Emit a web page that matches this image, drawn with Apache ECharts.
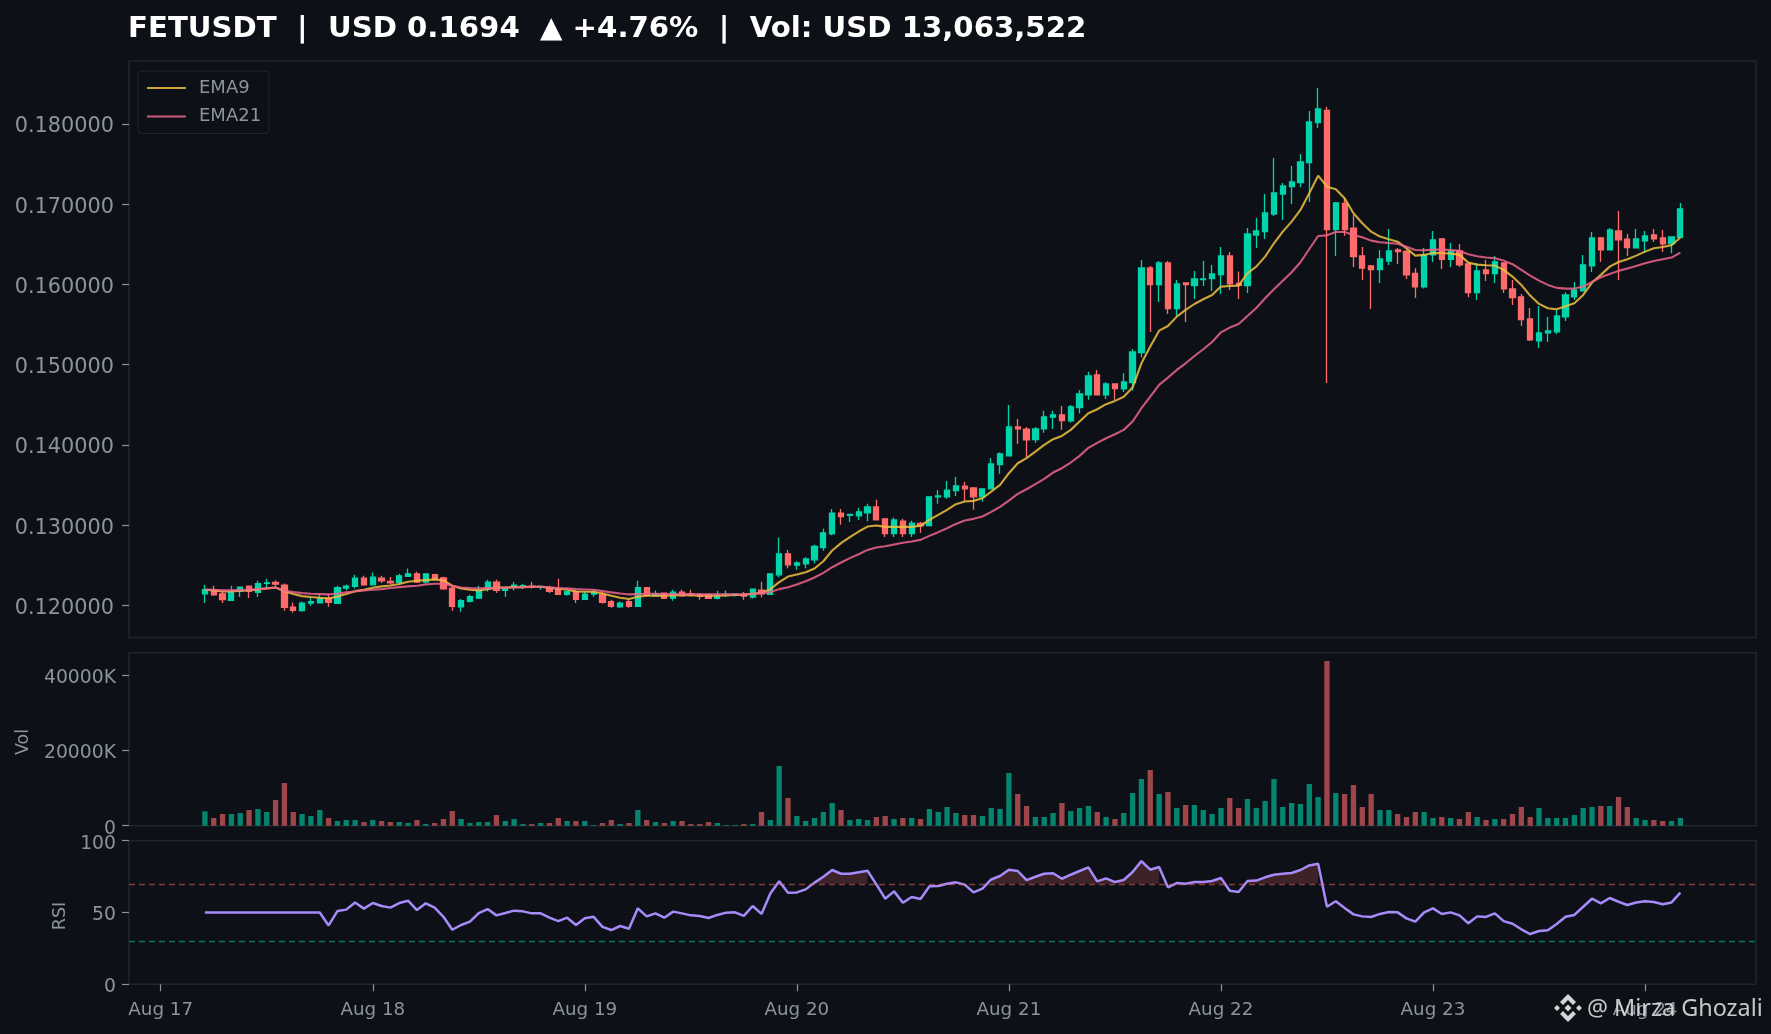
<!DOCTYPE html>
<html>
<head>
<meta charset="utf-8">
<style>html,body{margin:0;padding:0;background:#0d1117}#c{width:1771px;height:1034px}</style>
<script src="https://cdn.jsdelivr.net/npm/echarts@6/dist/echarts.min.js"></script>
</head>
<body>
<div id="c"></div>
<script>
// prices in thousandths of a USD; one bar per hour, first bar Aug 17 05:00
const firstHour = 5;
const O = [121.44,121.86,121.44,120.61,121.73,122.40,121.61,122.73,122.85,122.52,
119.78,119.33,120.28,120.32,120.90,120.24,122.15,122.36,123.39,122.56,
123.39,122.98,122.85,123.60,123.93,122.90,123.81,123.43,122.15,119.82,
120.49,120.90,122.06,122.90,121.86,122.23,122.36,122.40,122.27,122.23,
121.94,121.36,121.69,120.74,121.40,121.32,120.45,119.82,120.45,119.87,
122.19,121.19,121.53,120.90,121.65,121.44,121.36,121.32,120.86,121.23,
121.32,121.40,121.03,121.90,121.36,123.80,126.42,125.00,125.17,125.67,
127.21,128.91,131.48,131.23,131.15,131.53,132.27,130.78,128.95,130.49,
128.95,130.20,129.95,133.52,133.52,134.31,134.85,134.64,133.52,134.52,
137.55,138.63,142.24,141.95,140.66,141.99,143.45,143.74,142.99,144.65,
146.23,148.72,146.23,147.60,146.97,147.76,151.50,162.05,159.98,162.68,
156.99,160.18,159.85,160.60,160.72,161.22,163.55,160.14,159.85,166.16,
166.58,168.78,171.27,172.19,172.69,175.18,180.17,181.70,166.83,170.11,
167.00,163.55,162.30,161.85,162.92,164.30,164.13,161.39,159.69,163.68,
165.67,163.14,164.18,162.55,158.98,161.81,161.35,162.68,159.44,158.44,
155.70,152.96,153.96,154.08,155.95,158.44,159.19,162.31,165.79,164.30,
166.67,165.63,164.55,165.42,166.17,165.79,165.05,165.88];
const C = [121.94,121.32,120.70,121.73,122.27,121.77,122.69,122.81,122.65,119.74,
119.37,120.28,120.45,120.90,120.36,122.19,122.40,123.39,122.56,123.52,
123.06,122.81,123.68,123.93,122.90,123.93,123.27,122.06,119.87,120.57,
121.07,121.86,122.90,121.86,122.15,122.52,122.44,122.27,122.36,121.73,
121.36,121.69,120.74,121.40,121.61,120.36,119.87,120.28,119.87,122.19,
121.23,121.40,120.86,121.65,121.19,121.32,121.11,120.86,121.23,121.36,
121.40,121.15,122.02,121.44,123.93,126.42,125.05,125.29,125.79,127.33,
129.03,131.48,131.07,131.32,131.65,132.27,130.65,128.95,130.65,128.95,
130.24,129.91,133.52,133.64,134.35,134.89,134.52,133.52,134.52,137.63,
138.88,142.24,141.99,140.62,141.99,143.49,143.74,143.03,144.74,146.36,
148.60,146.23,147.60,147.02,147.85,151.59,162.05,159.98,162.68,156.99,
160.06,159.98,160.68,160.68,161.31,163.55,160.06,159.89,166.29,166.66,
168.91,171.40,172.27,172.77,175.27,180.25,181.87,166.83,170.16,166.83,
163.47,162.05,161.85,163.18,164.17,164.09,161.18,159.69,163.68,165.55,
163.14,164.18,162.43,158.98,161.68,161.35,162.80,159.44,158.36,155.62,
153.08,153.96,154.21,156.07,158.69,159.31,162.43,165.79,164.30,166.79,
165.55,164.59,165.67,166.04,165.67,165.05,165.92,169.41];
const H = [122.56,122.44,121.86,122.44,122.36,122.44,123.06,123.31,123.10,122.73,
120.36,120.49,120.90,121.40,121.44,122.44,122.60,123.81,123.68,124.10,
123.68,123.52,123.93,124.60,124.18,124.01,123.93,123.56,122.44,120.78,
121.32,122.44,123.19,123.19,122.36,122.90,122.69,122.94,122.44,122.44,
123.31,121.82,121.86,121.69,121.94,121.73,120.70,120.49,120.82,123.06,
122.23,121.86,121.61,121.94,121.94,121.94,121.53,121.44,121.82,121.86,
121.53,121.65,122.06,122.94,123.97,128.45,126.91,125.50,126.00,127.54,
129.53,132.02,132.02,131.40,132.15,132.65,133.15,130.78,130.94,130.78,
130.53,130.40,133.56,134.39,135.51,136.01,135.39,134.72,134.56,138.38,
139.04,144.98,143.24,142.24,142.24,144.24,144.24,144.86,144.98,146.85,
149.10,149.34,147.81,147.60,148.93,151.96,163.05,162.30,162.92,162.92,
160.56,160.18,161.68,162.92,162.43,164.67,164.05,161.60,167.04,168.28,
171.27,175.76,172.65,174.77,176.26,181.62,184.49,182.12,170.28,170.78,
168.66,164.67,162.43,164.30,166.92,164.55,164.30,162.01,164.55,166.67,
165.79,165.17,165.05,162.55,162.68,163.05,163.55,162.68,160.56,158.81,
157.07,157.32,155.95,156.82,159.02,160.31,163.68,166.54,165.92,167.04,
169.16,166.29,166.91,166.67,166.91,166.79,165.92,170.16];
const L = [120.28,121.19,120.28,120.61,121.03,120.90,121.03,122.27,122.36,119.33,
119.08,119.20,119.95,120.28,119.82,120.20,121.86,122.11,122.44,122.52,
122.77,122.60,122.56,123.52,122.77,122.69,123.10,121.94,119.33,119.20,
120.36,120.78,121.73,121.53,121.03,121.86,122.02,122.11,121.94,121.53,
121.32,121.19,120.28,120.70,121.07,120.20,119.70,119.70,119.70,119.82,
121.23,121.11,120.82,120.57,121.11,121.19,120.70,120.78,120.74,121.03,
121.07,120.70,120.86,120.99,121.36,123.51,124.63,124.42,124.63,125.25,
126.79,128.74,130.03,130.40,130.65,130.49,130.65,128.53,128.53,128.53,
128.53,129.03,129.82,132.65,133.27,133.64,133.02,131.90,132.90,134.47,
136.39,138.59,140.12,138.50,140.25,141.50,141.99,141.87,142.78,143.95,
145.61,146.23,145.73,145.61,146.60,146.77,150.88,154.08,157.82,156.32,
156.07,155.32,158.19,159.81,159.19,158.81,159.31,158.19,158.94,164.55,
165.67,168.53,168.04,170.03,172.11,170.28,179.50,147.72,163.55,166.04,
162.18,160.56,156.95,160.18,162.43,162.55,160.68,158.32,159.48,162.80,
161.93,162.18,162.18,158.40,158.07,160.44,160.19,158.94,157.44,154.83,
152.96,152.09,152.83,153.83,155.45,158.07,159.15,161.56,162.80,164.26,
160.56,163.55,164.51,163.93,165.30,164.05,163.89,165.84];
const EMA9 = [121.94,121.86,121.73,121.73,121.82,121.86,121.98,122.11,122.23,121.77,
121.40,121.15,121.03,120.94,120.86,121.11,121.40,121.77,121.94,122.19,
122.36,122.48,122.65,122.94,123.06,123.14,123.23,123.10,122.44,122.11,
121.94,121.86,122.02,122.23,122.23,122.27,122.27,122.31,122.31,122.19,
122.06,121.94,121.73,121.69,121.69,121.48,121.19,120.94,120.78,121.07,
121.19,121.19,121.19,121.23,121.28,121.23,121.23,121.19,121.19,121.23,
121.28,121.28,121.44,121.53,122.02,122.90,123.59,123.84,124.13,124.59,
125.50,126.83,127.75,128.49,129.20,129.82,129.95,129.78,129.78,129.78,
129.78,129.91,130.65,131.28,131.90,132.61,132.94,133.02,133.35,134.18,
135.01,136.47,137.71,138.34,139.17,140.00,140.71,141.12,141.87,142.91,
143.95,144.44,145.07,145.48,146.00,147.15,150.17,152.25,154.24,154.82,
155.99,156.82,157.56,158.15,158.69,159.73,159.81,159.85,161.39,162.22,
163.46,165.13,166.58,167.83,169.28,171.36,173.56,172.19,171.85,170.73,
168.87,167.62,166.58,165.96,165.62,165.33,164.50,163.59,163.68,163.93,
163.89,163.85,163.68,162.72,162.47,162.39,162.35,161.81,160.98,159.94,
158.61,157.57,157.03,156.91,157.28,157.65,158.69,160.23,161.19,162.22,
162.80,163.14,163.59,164.09,164.51,164.67,164.88,165.84];
const EMA21 = [121.98,121.94,121.86,121.86,121.90,121.94,122.02,122.11,122.23,121.82,
121.65,121.53,121.44,121.40,121.36,121.48,121.61,121.73,121.86,121.94,
122.02,122.15,122.27,122.36,122.44,122.60,122.69,122.69,122.44,122.23,
122.15,122.11,122.15,122.19,122.19,122.23,122.27,122.31,122.31,122.23,
122.15,122.11,122.02,121.98,121.94,121.77,121.61,121.48,121.36,121.40,
121.44,121.44,121.40,121.40,121.40,121.40,121.36,121.36,121.36,121.36,
121.36,121.36,121.44,121.53,121.65,122.02,122.26,122.59,123.01,123.47,
124.05,124.75,125.34,125.88,126.37,126.91,127.21,127.37,127.58,127.79,
127.95,128.16,128.66,129.12,129.61,130.15,130.57,130.78,131.07,131.65,
132.27,133.06,133.89,134.47,135.10,135.76,136.55,137.09,137.80,138.63,
139.63,140.25,140.83,141.33,141.87,142.91,144.57,146.02,147.48,148.38,
149.34,150.17,151.08,151.92,152.83,154.03,154.62,155.07,156.07,157.07,
158.27,159.39,160.47,161.51,162.76,164.42,166.04,166.12,166.54,166.54,
166.16,165.87,165.46,165.25,165.17,165.08,164.71,164.30,164.26,164.34,
164.34,164.30,164.18,163.76,163.51,163.35,163.26,162.97,162.52,161.81,
161.10,160.48,159.94,159.57,159.48,159.48,159.73,160.31,160.90,161.31,
161.69,161.98,162.31,162.64,162.93,163.14,163.35,163.97];
const RSI = [50,50,50,50,50,50,50,50,50,50,50,50,50,50,
41,51,52,57,52.7,56.6,54.5,53.4,56.6,58.2,
51.7,56.4,53.4,47,38,41.3,43.6,49.6,52.4,48,
49.6,51.3,50.8,49.4,49.4,46.4,44,46.4,41.3,46,
47,40,37.8,40.6,38.7,52.9,47.3,49.4,46.4,50.6,
49.4,48,47.6,46.2,48.3,49.9,50.1,47.6,54.5,49,
63.3,71.7,63.8,64,66.1,70.8,74.9,79.6,77,77,
78,79.1,69.6,59.6,64.7,56.8,60.8,59.4,68.2,68.4,
70,71,69.4,64,66.6,73,75.4,79.8,78.9,72.6,
74.9,77,77.3,73.5,76.3,78.9,81.4,71.7,73.8,71.2,
72.6,78.2,85.8,79.8,81.7,67.5,70.5,70,71.2,71.2,
71.9,74,65.2,64.3,71.9,72.2,74.5,76.3,77,77.5,
79.6,82.8,84,54,57.8,53.1,48.7,47.3,46.9,49,
50.3,50.1,45.9,43.6,50.1,52.9,49,50.1,48,42.5,
47.3,46.9,49.4,44,42.2,38.3,35,37.1,37.6,42,
47.1,48.3,54,59.6,56.4,60.1,57.5,55.2,57,57.8,
57.3,55.7,57,63.8];
const VOL = [3800,2040,3100,3100,3360,4160,4430,3630,6810,11330,
3630,3100,2570,4160,2040,1240,1500,1500,970,1500,
1240,970,970,710,1500,440,710,1770,3890,1770,
710,970,970,2830,1240,1770,440,440,710,710,
2040,1240,1240,1240,180,710,1500,440,710,4160,
1500,970,710,1240,1240,440,440,970,710,180,
180,440,440,3630,1500,15840,7350,2570,1240,2040,
3630,6020,4160,1500,1770,1500,2300,2570,1770,2040,
2040,1770,4430,3630,4960,3360,2830,2830,2570,4690,
4430,13980,8410,5220,2300,2300,3360,6020,3890,4690,
5220,3630,2300,1770,3360,8670,12390,14780,8410,8940,
4690,5490,5490,4160,3100,4690,7350,4690,7080,4690,
6550,12390,4960,6020,5750,11060,7610,43720,8670,8410,
10800,4960,8410,4160,4160,3100,2300,3630,3630,2040,
2300,2040,1770,3630,2300,1500,1770,1770,3100,4960,
2300,4690,2040,2040,2040,2830,4690,4960,5220,5220,
7610,4960,2040,1500,1500,1240,1240,2040];
const dayHours = [0,24,48,72,96,120,144,168];
const dayLabels = ['Aug 17','Aug 18','Aug 19','Aug 20','Aug 21','Aug 22','Aug 23','Aug 24'];
const priceTicks = [0.12,0.13,0.14,0.15,0.16,0.17,0.18];
const volTicks = [0,20000,40000];
const rsiTicks = [0,50,100];
const titleText = 'FETUSDT  |  USD 0.1694  ▲ +4.76%  |  Vol: USD 13,063,522';

const UP='#00d4aa', DOWN='#ff6b6b', TXT='#8b949e', EDGE='#21262d', FAINT='rgba(33,38,45,0.18)', FONT='"DejaVu Sans"';
const xs = O.map((_,i)=>firstHour+i);
const xMin=-3.59, xMax=180.56;
const box=(top,h)=>({left:129,right:15,top,height:h,show:true,backgroundColor:'#0d1117',borderColor:EDGE,borderWidth:1.5});
const xBase=i=>({type:'value',gridIndex:i,min:xMin,max:xMax,axisLine:{show:false,onZero:false},
  axisTick:{show:false,customValues:dayHours},
  axisLabel:{show:false,customValues:dayHours},
  splitLine:{show:true,lineStyle:{color:FAINT,width:1}}});
const yBase=(i,min,max,ticks,fs,mg,fmt)=>({type:'value',gridIndex:i,min,max,scale:true,
  axisLine:{show:false,onZero:false},
  axisTick:{show:true,length:7,customValues:ticks,lineStyle:{color:TXT,width:1.2}},
  axisLabel:{customValues:ticks,margin:mg,formatter:v=>'{t|'+fmt(v)+'}',
    rich:{t:{color:TXT,fontSize:fs,fontFamily:FONT,padding:[6,0,0,0]}}},
  splitLine:{show:true,lineStyle:{color:FAINT,width:1}}});
const rotName=(text,x,y)=>({type:'text',x,y,rotation:Math.PI/2,z:100,silent:true,
  style:{text,fill:TXT,font:'17.5px "DejaVu Sans"',align:'center',verticalAlign:'middle'}});

const P=v=>v/1000;
const chart=echarts.init(document.getElementById('c'),null,{renderer:'canvas'});
chart.setOption({
  animation:false,
  backgroundColor:'#0d1117',
  textStyle:{fontFamily:FONT},
  title:{text:titleText,left:128,top:15,padding:0,textStyle:{color:'#ffffff',fontSize:29.2,fontWeight:'bold',fontFamily:FONT}},
  legend:{left:138,top:71,orient:'vertical',data:['EMA9','EMA21'],itemWidth:39,itemHeight:14,itemGap:10.5,
    itemStyle:{color:'rgba(0,0,0,0)',borderWidth:0,opacity:0},
    backgroundColor:'#0d1117',borderColor:EDGE,borderWidth:1,borderRadius:4,padding:[8,8,8,8],
    textStyle:{color:TXT,fontSize:18,fontFamily:FONT,padding:[0,0,0,8]}},
  grid:[box(61,576.5),box(652.7,173),box(840.7,143.6)],
  xAxis:[xBase(0),xBase(1),Object.assign(xBase(2),{
    axisTick:{show:true,length:7,customValues:dayHours,lineStyle:{color:TXT,width:1.2}},
    axisLabel:{show:true,customValues:dayHours,color:TXT,fontSize:18.3,fontFamily:FONT,margin:16.5,
      formatter:v=>dayLabels[dayHours.indexOf(v)]||''}})],
  yAxis:[
    yBase(0,0.11599,0.18785,priceTicks,20.8,15,v=>v.toFixed(6)),
    yBase(1,0,45900,volTicks,18.8,13,v=>v===0?'0':v+'K'),
    yBase(2,0,100,rsiTicks,18.8,13,v=>String(v))
  ],
  series:[
    {type:'candlestick',name:'Price',xAxisIndex:0,yAxisIndex:0,barWidth:5.7,
     itemStyle:{color:UP,color0:DOWN,borderColor:UP,borderColor0:DOWN,borderWidth:1.3},
     data:xs.map((x,i)=>[x,P(O[i]),P(C[i]),P(L[i]),P(H[i])])},
    {type:'line',name:'EMA9',xAxisIndex:0,yAxisIndex:0,symbol:'none',
     lineStyle:{color:'#f0c040',width:2.1,opacity:0.85},itemStyle:{color:'#f0c040'},
     data:xs.map((x,i)=>[x,P(EMA9[i])])},
    {type:'line',name:'EMA21',xAxisIndex:0,yAxisIndex:0,symbol:'none',
     lineStyle:{color:'#f0648c',width:2.1,opacity:0.85},itemStyle:{color:'#f0648c'},
     data:xs.map((x,i)=>[x,P(EMA21[i])])},
    {type:'bar',name:'Volume',xAxisIndex:1,yAxisIndex:1,barWidth:5.3,
     data:xs.map((x,i)=>({value:[x,VOL[i]],itemStyle:{color:C[i]>=O[i]?UP:DOWN,opacity:0.6}}))},
    {type:'line',name:'RSI zone',xAxisIndex:2,yAxisIndex:2,symbol:'none',showSymbol:false,connectNulls:false,
     lineStyle:{width:0},areaStyle:{origin:70,color:'#ff6b6b',opacity:0.2},
     data:xs.map((x,i)=>[x,RSI[i]>=70?RSI[i]:null])},
    {type:'line',name:'RSI',xAxisIndex:2,yAxisIndex:2,symbol:'none',
     lineStyle:{color:'#a78bfa',width:2.5},
     markLine:{silent:true,symbol:'none',label:{show:false},
       data:[{yAxis:70,lineStyle:{color:'rgba(255,107,107,0.5)',type:[6,4],width:1.4}},
             {yAxis:30,lineStyle:{color:'rgba(0,212,170,0.5)',type:[6,4],width:1.4}}]},
     data:xs.map((x,i)=>[x,RSI[i]])}
  ],
  graphic:[rotName('Vol',23.5,742),rotName('RSI',60,916),
  {type:'group',left:1554,top:994,z:100,silent:true,children:[
    {type:'polygon',x:14,y:14,style:{fill:'#d4d4d4'},shape:{points:[[0,-14],[8,-6],[5,-3],[0,-8],[-5,-3],[-8,-6]]}},
    {type:'polygon',x:14,y:14,style:{fill:'#d4d4d4'},shape:{points:[[0,14],[8,6],[5,3],[0,8],[-5,3],[-8,6]]}},
    {type:'polygon',x:14,y:14,style:{fill:'#d4d4d4'},shape:{points:[[-14,0],[-11,-3],[-8,0],[-11,3]]}},
    {type:'polygon',x:14,y:14,style:{fill:'#d4d4d4'},shape:{points:[[14,0],[11,-3],[8,0],[11,3]]}},
    {type:'polygon',x:14,y:14,style:{fill:'#d4d4d4'},shape:{points:[[0,-3.5],[3.5,0],[0,3.5],[-3.5,0]]}}
  ]},
  {type:'text',left:1587,top:998,z:100,silent:true,style:{text:'@ Mirza Ghozali',fill:'rgba(220,220,220,0.9)',font:'23.4px "Noto Sans"'}}]
});
</script>
</body>
</html>
